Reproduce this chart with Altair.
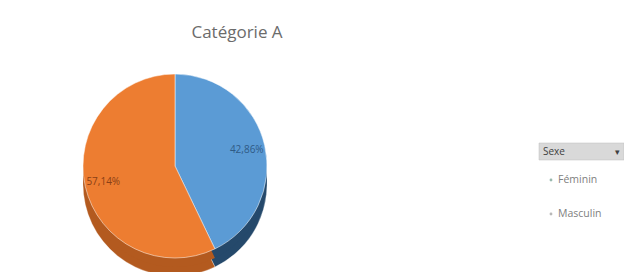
import altair as alt
import pandas as pd

categories = ["Féminin", "Masculin"]
values = [42.86, 57.14]
top_colors = ["#5B9BD5", "#ED7D31"]
side_colors = ["#25496B", "#B35A1F"]
label_colors = ["#2F5A85", "#8A4015"]
title_text = "Catégorie A"
legend_title = "Sexe"

df = pd.DataFrame({
    "sexe": categories,
    "pct": values,
    "label": [f"{v:.2f}".replace(".", ",") + "%" for v in values],
    "order": [0, 1],
})

CX, CY, R, DEPTH = 167, 158, 92, 18

color_top = alt.Color("sexe:N", scale=alt.Scale(domain=categories, range=top_colors), legend=None)
color_side = alt.Color("sexe:N", scale=alt.Scale(domain=categories, range=side_colors), legend=None)

base = alt.Chart(df).encode(
    theta=alt.Theta("pct:Q", stack=True),
    order=alt.Order("order:Q"),
)

side = base.mark_arc(outerRadius=R, stroke="#ffffff", strokeWidth=0.3).encode(
    color=color_side, x=alt.value(CX), y=alt.value(CY + DEPTH)
)
side2 = base.mark_arc(outerRadius=R).encode(
    color=color_side, x=alt.value(CX), y=alt.value(CY + DEPTH // 2)
)
top = base.mark_arc(outerRadius=R, stroke="#ffffff", strokeWidth=0.5).encode(
    color=color_top, x=alt.value(CX), y=alt.value(CY)
)
labels = base.mark_text(radius=R * 0.8, fontSize=10, font="Open Sans").encode(
    text="label:N",
    color=alt.Color("sexe:N", scale=alt.Scale(domain=categories, range=label_colors), legend=None),
    x=alt.value(CX), y=alt.value(CY),
)

title = alt.Chart(pd.DataFrame({"t": [title_text]})).mark_text(
    fontSize=17, font="Open Sans", color="#6b6b6b"
).encode(text="t:N", x=alt.value(229), y=alt.value(25))

hdr_rect = alt.Chart(pd.DataFrame({"t": [legend_title]})).mark_rect(
    color="#D9D9D9", stroke="#BFBFBF", strokeWidth=0.5
).encode(x=alt.value(531), x2=alt.value(616), y=alt.value(135), y2=alt.value(152))
hdr_text = alt.Chart(pd.DataFrame({"t": [legend_title]})).mark_text(
    fontSize=10, font="Open Sans", color="#404040", align="left"
).encode(text="t:N", x=alt.value(535), y=alt.value(144))
hdr_arrow = alt.Chart(pd.DataFrame({"t": ["▾"]})).mark_text(
    fontSize=9, color="#404040", align="left"
).encode(text="t:N", x=alt.value(607), y=alt.value(144))

leg_df = pd.DataFrame({"sexe": categories})
yscale = alt.Scale(type="point", domain=categories, range=[172, 206], padding=0)
leg_dots = alt.Chart(leg_df).mark_point(filled=True, size=8, opacity=0.8).encode(
    y=alt.Y("sexe:N", scale=yscale, axis=None),
    x=alt.value(543),
    color=alt.Color("sexe:N", scale=alt.Scale(domain=categories, range=["#7FA89A", "#A6A6A6"]), legend=None),
)
leg_text = alt.Chart(leg_df).mark_text(fontSize=10.5, font="Open Sans", color="#808080", align="left").encode(
    y=alt.Y("sexe:N", scale=yscale, axis=None),
    x=alt.value(550),
    text="sexe:N",
)

chart = alt.layer(side, side2, top, labels, title, hdr_rect, hdr_text, hdr_arrow, leg_dots, leg_text).resolve_scale(
    color="independent"
).properties(
    width=616, height=264, autosize=alt.AutoSizeParams(type="none"), padding=0
).configure_view(stroke=None)

chart.save("out.html", embed_options={"renderer": "svg", "actions": False})
